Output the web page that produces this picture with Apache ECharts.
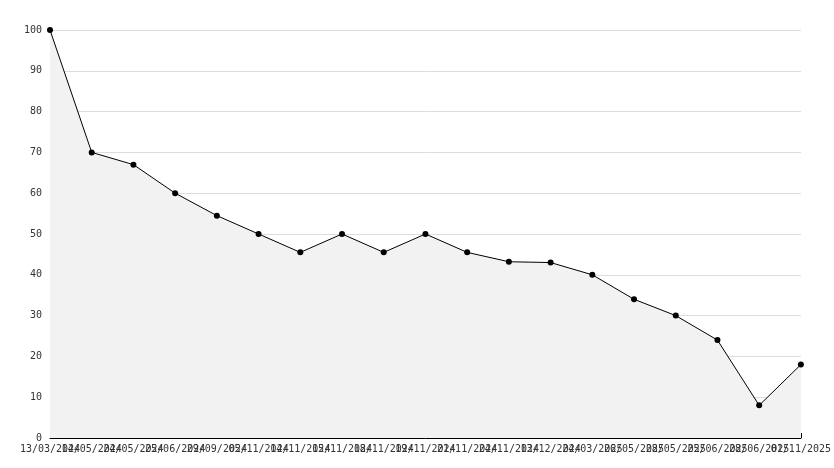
<!DOCTYPE html><html><head><meta charset="utf-8"><script src="https://cdn.jsdelivr.net/npm/echarts@6/dist/echarts.min.js"></script></head><body style="margin:0"><div id="c" style="width:834px;height:468px"></div><script>
const categories=["13/03/2024","14/05/2024","24/05/2024","25/06/2024","29/09/2024","05/11/2024","14/11/2024","15/11/2024","18/11/2024","19/11/2024","21/11/2024","24/11/2024","13/12/2024","24/03/2025","26/05/2025","28/05/2025","25/06/2025","28/06/2025","01/11/2025"];
const values=[100,70,67,60,54.5,50,45.5,50,45.5,50,45.5,43.2,43,40,34,30,24,8,18];
const ft="DejaVu Sans Mono";
echarts.init(document.getElementById('c')).setOption({animation:false,
grid:{left:50,right:30,top:30,bottom:30},
xAxis:{type:'category',data:categories,boundaryGap:false,
axisLine:{lineStyle:{color:'#000'}},axisTick:{lineStyle:{color:'#000'},length:5,inside:true},
axisLabel:{interval:0,color:'#333',fontFamily:ft,fontSize:10,margin:6}},
yAxis:{type:'value',min:0,max:100,interval:10,
axisLine:{show:true,lineStyle:{color:'#000'}},axisTick:{show:true,inside:true,length:3,lineStyle:{color:'#000'}},
axisLabel:{color:'#333',fontFamily:ft,fontSize:10,margin:8},splitLine:{lineStyle:{color:'#ddd'}}},
series:[{type:'line',data:values,symbol:'circle',symbolSize:6,itemStyle:{color:'#000'},
lineStyle:{color:'#000',width:1},areaStyle:{color:'#f2f2f2',opacity:1}}]});
</script></body></html>
